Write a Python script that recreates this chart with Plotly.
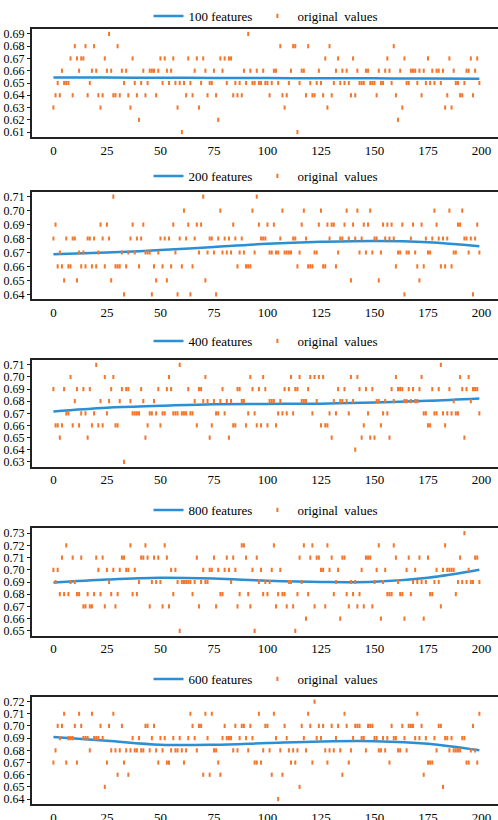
import plotly.graph_objects as go

x_idx = list(range(200))
trend_x = [0, 25, 50, 75, 100, 125, 150, 175, 199]
labels = ["100 features", "200 features", "400 features", "800 features", "600 features"]

vals_100 = [
.63,.64,.65,.64,.66,.65,.65,.65,.67,.64, .68,.67,.66,.67,.67,.68,.64,.65,.66,.68,
.66,.64,.63,.64,.67,.66,.69,.66,.64,.64, .68,.64,.66,.65,.66,.64,.63,.67,.65,.64,
.62,.65,.66,.64,.65,.66,.66,.66,.64,.66, .67,.65,.67,.66,.65,.66,.67,.65,.63,.65,
.61,.65,.64,.67,.65,.64,.66,.67,.63,.65, .67,.66,.64,.65,.65,.66,.64,.62,.67,.66,
.67,.65,.67,.67,.64,.65,.64,.65,.64,.66, .65,.69,.66,.65,.65,.66,.65,.65,.66,.65,
.65,.64,.65,.66,.66,.65,.68,.64,.63,.64, .65,.66,.68,.68,.61,.65,.66,.66,.64,.68,
.65,.64,.64,.65,.66,.65,.64,.67,.63,.68, .64,.65,.66,.67,.65,.66,.65,.66,.65,.64,
.67,.64,.66,.65,.65,.65,.66,.66,.65,.65, .65,.64,.66,.65,.65,.66,.67,.66,.65,.68,
.64,.62,.66,.63,.67,.65,.65,.66,.66,.66, .65,.66,.64,.66,.65,.67,.65,.66,.65,.66,
.66,.65,.66,.63,.64,.67,.63,.66,.65,.65, .64,.64,.65,.66,.66,.67,.64,.66,.67,.65]

vals_200 = [
.68,.69,.66,.67,.66,.65,.68,.66,.66,.68, .68,.65,.67,.66,.67,.66,.68,.68,.66,.68,
.66,.67,.69,.68,.66,.69,.68,.65,.71,.66, .66,.66,.67,.64,.66,.67,.68,.69,.67,.68,
.66,.68,.69,.67,.67,.67,.64,.66,.65,.67, .68,.66,.68,.65,.68,.66,.69,.67,.64,.68,
.66,.70,.68,.69,.64,.66,.68,.69,.67,.69, .71,.65,.67,.68,.68,.67,.64,.68,.70,.67,
.68,.67,.68,.67,.69,.68,.66,.67,.68,.67, .66,.66,.66,.70,.67,.71,.69,.68,.68,.68,
.69,.67,.67,.69,.67,.67,.68,.70,.67,.67, .67,.67,.68,.68,.66,.67,.69,.70,.68,.66,
.66,.66,.67,.67,.69,.70,.66,.66,.69,.68, .69,.69,.66,.67,.68,.68,.69,.70,.68,.65,
.69,.68,.70,.67,.68,.69,.67,.69,.70,.67, .68,.68,.65,.67,.69,.68,.69,.68,.69,.68,
.66,.67,.67,.69,.64,.67,.67,.68,.69,.67, .66,.65,.69,.66,.68,.67,.67,.68,.70,.69,
.68,.66,.68,.66,.68,.70,.66,.67,.67,.69, .69,.70,.68,.68,.67,.68,.64,.68,.69,.67]

vals_400 = [
.69,.66,.66,.65,.66,.69,.67,.67,.70,.66, .68,.69,.66,.67,.69,.67,.65,.69,.66,.67,
.71,.66,.68,.66,.70,.67,.68,.69,.70,.66, .66,.68,.69,.63,.69,.69,.68,.67,.67,.67,
.67,.69,.68,.65,.66,.67,.67,.68,.67,.69, .66,.67,.67,.69,.70,.69,.67,.67,.67,.71,
.67,.67,.67,.69,.67,.67,.68,.66,.69,.69, .68,.70,.68,.65,.66,.68,.67,.67,.68,.69,
.67,.68,.65,.68,.66,.66,.69,.69,.68,.68, .66,.67,.70,.69,.67,.66,.69,.66,.70,.69,
.66,.68,.68,.68,.66,.67,.68,.67,.69,.67, .69,.70,.67,.69,.69,.70,.68,.68,.68,.69,
.70,.67,.70,.68,.70,.66,.70,.66,.66,.67, .65,.68,.67,.69,.68,.68,.69,.68,.67,.70,
.68,.64,.70,.69,.65,.66,.69,.67,.65,.69, .65,.68,.68,.66,.67,.68,.67,.65,.69,.68,
.70,.69,.69,.69,.68,.68,.69,.68,.69,.68, .68,.69,.70,.67,.67,.66,.66,.69,.67,.67,
.69,.71,.67,.66,.67,.69,.67,.68,.67,.67, .70,.69,.65,.69,.70,.68,.69,.69,.69,.67]

vals_800 = [
.70,.69,.70,.68,.71,.68,.72,.68,.69,.71, .69,.68,.68,.71,.67,.67,.68,.67,.67,.68,
.71,.70,.68,.71,.67,.70,.69,.68,.70,.67, .68,.70,.71,.71,.70,.70,.72,.68,.70,.68,
.69,.71,.71,.72,.71,.67,.69,.71,.69,.71, .69,.67,.72,.71,.67,.70,.68,.70,.69,.65,
.69,.69,.69,.69,.69,.68,.69,.71,.67,.69, .70,.69,.69,.70,.70,.71,.67,.70,.68,.68,
.70,.71,.70,.69,.71,.70,.67,.68,.72,.72, .71,.68,.67,.70,.65,.71,.69,.70,.68,.69,
.68,.69,.70,.72,.67,.68,.70,.68,.68,.67, .69,.69,.67,.65,.68,.71,.69,.72,.66,.68,
.71,.72,.67,.71,.71,.70,.70,.67,.72,.70, .71,.68,.69,.70,.66,.71,.71,.68,.67,.69,
.68,.69,.67,.68,.70,.67,.71,.71,.71,.67, .69,.70,.72,.66,.69,.70,.68,.68,.68,.72,
.71,.69,.68,.68,.66,.70,.71,.68,.69,.70, .69,.71,.69,.66,.69,.71,.68,.68,.69,.70,
.69,.67,.70,.72,.70,.70,.70,.70,.68,.69, .71,.69,.73,.69,.70,.69,.69,.71,.71,.69]

vals_600 = [
.67,.68,.70,.69,.70,.71,.67,.69,.69,.69, .70,.67,.71,.70,.69,.69,.69,.68,.71,.69,
.69,.69,.70,.69,.65,.67,.70,.68,.71,.68, .66,.68,.70,.67,.68,.66,.68,.69,.68,.68,
.69,.68,.68,.70,.70,.68,.69,.70,.68,.67, .69,.68,.69,.67,.67,.68,.69,.68,.68,.69,
.68,.67,.68,.69,.71,.70,.69,.68,.70,.70, .66,.71,.69,.66,.71,.68,.68,.67,.66,.69,
.70,.69,.69,.69,.68,.70,.68,.69,.70,.70, .69,.68,.70,.69,.67,.67,.71,.67,.68,.70,
.70,.68,.66,.71,.69,.64,.68,.66,.70,.69, .68,.67,.68,.67,.68,.65,.70,.69,.68,.71,
.70,.67,.72,.69,.70,.69,.70,.68,.67,.68, .70,.68,.69,.70,.68,.66,.71,.70,.67,.68,
.69,.70,.70,.70,.69,.69,.68,.70,.70,.70, .69,.69,.68,.68,.69,.68,.69,.67,.70,.69,
.69,.68,.68,.70,.69,.68,.70,.70,.70,.69, .71,.69,.70,.66,.69,.67,.67,.67,.69,.68,
.70,.70,.65,.69,.69,.68,.69,.68,.68,.68, .68,.69,.69,.67,.67,.68,.70,.68,.67,.71]

trend_100 = [0.6545, 0.6544, 0.6543, 0.6541, 0.6540, 0.6539, 0.6538, 0.6536, 0.6535]
trend_200 = [0.6688, 0.6700, 0.6717, 0.6740, 0.6762, 0.6776, 0.6783, 0.6774, 0.6745]
trend_400 = [0.6716, 0.6746, 0.6762, 0.6776, 0.6778, 0.6780, 0.6790, 0.6803, 0.6822]
trend_800 = [0.6895, 0.6920, 0.6935, 0.6928, 0.6910, 0.6900, 0.6902, 0.6935, 0.7000]
trend_600 = [0.6910, 0.6878, 0.6846, 0.6846, 0.6860, 0.6873, 0.6875, 0.6854, 0.6800]

y_ticks_100 = [0.61, 0.62, 0.63, 0.64, 0.65, 0.66, 0.67, 0.68, 0.69]
y_ticks_200 = [0.64, 0.65, 0.66, 0.67, 0.68, 0.69, 0.70, 0.71]
y_ticks_400 = [0.63, 0.64, 0.65, 0.66, 0.67, 0.68, 0.69, 0.70, 0.71]
y_ticks_800 = [0.65, 0.66, 0.67, 0.68, 0.69, 0.70, 0.71, 0.72, 0.73]
y_ticks_600 = [0.64, 0.65, 0.66, 0.67, 0.68, 0.69, 0.70, 0.71, 0.72]
x_ticks = [0, 25, 50, 75, 100, 125, 150, 175, 200]

series = [vals_100, vals_200, vals_400, vals_800, vals_600]
trends = [trend_100, trend_200, trend_400, trend_800, trend_600]
yticks = [y_ticks_100, y_ticks_200, y_ticks_400, y_ticks_800, y_ticks_600]

# layout (pixel positions of panels in a 498x820 page)
W, H = 498, 820
panel_px = [(29, 137), (191.7, 299.3), (360, 466.7), (528.3, 635.7), (696.7, 804)]
legend_px = [16, 176, 341, 510, 679]
FONT = "Liberation Serif"
ORANGE = "#f5762a"
BLUE = "#2a8fd4"

fig = go.Figure()
layout = dict(width=W, height=H, margin=dict(l=0, r=0, t=0, b=0),
              paper_bgcolor="white", plot_bgcolor="white",
              font=dict(family=FONT, size=13, color="black"))

for i in range(5):
    n = "" if i == 0 else str(i + 1)
    xa, ya = "x" + n, "y" + n
    lg = "legend" + n
    fig.add_trace(go.Scatter(x=trend_x, y=trends[i], mode="lines", name=labels[i],
                             line=dict(color=BLUE, width=2.5, shape="spline"),
                             xaxis=xa, yaxis=ya, legend=lg))
    fig.add_trace(go.Scatter(x=x_idx, y=series[i], mode="markers", name="original  values",
                             marker=dict(symbol="line-ns", size=3,
                                         line=dict(color=ORANGE, width=2), color=ORANGE),
                             xaxis=xa, yaxis=ya, legend=lg))
    top, bot = panel_px[i]
    lo, hi = min(series[i]), max(series[i])
    pad = (hi - lo) * 0.05
    layout["xaxis" + n] = dict(domain=[32 / W, 1.0], range=[-10, 207.7], anchor=ya,
                               tickvals=x_ticks, showline=True, mirror=True,
                               linewidth=2, linecolor="#222", showgrid=False,
                               zeroline=False, ticks="", automargin=False,
                               tickfont=dict(family=FONT, size=13, color="black"))
    layout["yaxis" + n] = dict(domain=[1 - bot / H, 1 - top / H], range=[lo - pad, hi + pad],
                               anchor=xa, tickvals=yticks[i], tickformat=".2f",
                               showline=True, mirror=False, linewidth=2, linecolor="#222",
                               showgrid=False, zeroline=False, ticks="outside", ticklen=3,
                               tickcolor="#222", automargin=False,
                               tickfont=dict(family=FONT, size=12, color="black"))
    layout[lg] = dict(orientation="h", x=266 / W, xanchor="center",
                      y=1 - legend_px[i] / H, yanchor="middle",
                      bgcolor="rgba(0,0,0,0)", itemwidth=30,
                      font=dict(family=FONT, size=13, color="black"))

fig.update_layout(**layout)
fig.write_html("out.html")
